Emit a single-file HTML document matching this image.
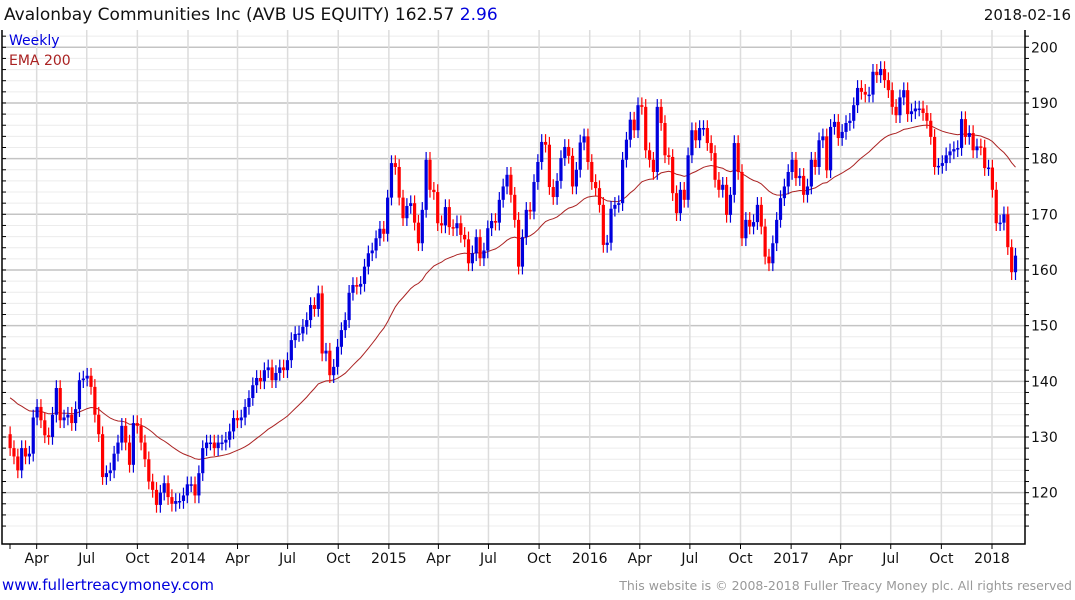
<!DOCTYPE html>
<html><head><meta charset="utf-8">
<style>
body{margin:0;background:#fff;width:1075px;height:600px;overflow:hidden;font-family:"DejaVu Sans","Liberation Sans",sans-serif;}
svg{display:block}
</style></head>
<body>
<svg id="chart" width="1075" height="600" xmlns="http://www.w3.org/2000/svg">
<text x="4" y="20" font-size="17" fill="#111">Avalonbay Communities Inc (AVB US EQUITY) 162.57 <tspan fill="#0000dd">2.96</tspan></text>
<text x="1071" y="20" font-size="15" fill="#111" text-anchor="end">2018-02-16</text>
<g id="grid"></g>
<g id="ema"></g>
<g id="candles"></g>
<g id="axes"></g>
<text x="9" y="45" font-size="14" fill="#0000dd">Weekly</text>
<text x="9" y="65" font-size="14" fill="#aa2222">EMA 200</text>
<text x="2" y="590" font-size="15" fill="#0000dd">www.fullertreacymoney.com</text>
<text x="1072" y="590" font-size="12.5" fill="#999" text-anchor="end">This website is © 2008-2018 Fuller Treacy Money plc. All rights reserved</text>
</svg>
<script>
const closes = [128,126.5,124,128,126.5,127,133.5,135.4,133,130.3,130,134,138.8,133,133.5,134,132.5,135,140.2,140.5,141,139,134,130.5,122.8,123.5,124,127,129,132,129,125,132.5,132,129,126,122,120.5,117.8,120,121.7,119.2,118,118.5,118.5,119.5,121.5,121.5,119.5,123.5,128,
129,129,128,129,129,129.5,131,133.4,133,133.5,135.4,137,139.3,140.6,140,142,142.5,140.2,141.5,142.5,142,143.8,147.4,148.5,148.6,149.8,151,153.7,153,155.8,145,145.5,141.1,142.6,146.2,149.2,151,155.9,157.3,157,157.5,160.6,163,163.5,165.7,167.4,166.5,173,179.2,178.5,173,169.3,171.5,172,168.5,
164.8,170.8,179.8,174.4,174,168.4,168,171.3,167.7,167.5,168.4,166.3,165.5,161.2,163,165.9,162.1,163.5,167.5,168.8,168.5,172.6,175,177.1,173.5,169,160.6,165.9,170.8,170.5,175.8,179.4,183,182.5,174.9,173.1,176,180.1,182.1,180.5,175,178,182.9,184,179.4,175.8,174.7,171.7,164.5,164.9,171,171.7,172,179.8,183.4,
187,185.1,189.6,189.3,181.5,179.8,177.6,189.3,186.4,180.6,180.3,173.8,170.2,174.4,172.6,180.6,185.1,183.3,185.5,185.5,182.8,181,176.2,174.4,175.3,169.9,173.5,182.8,177.6,165.7,169,167.8,168.6,171.7,167.8,162.4,161.2,164.8,169,172.9,175,177.6,179.8,176.5,176.9,173.5,175,179.8,178.5,183.3,184,177.9,185.7,186.6,183.7,
184.8,186.4,186.8,189.6,192.7,192,191.5,191.5,195.6,195,196.1,194.1,192.3,189.3,187.8,191,192.3,188,188.5,189,189,188.2,186.8,183.9,178.5,178.7,179.2,180.6,181.3,181.7,181.9,187.1,183.9,184.6,181.5,182.2,182,178.3,178.4,174.4,168.4,168.5,170,164.1,159.6,162.57];
const firstOpen = 130.5;
const emaStart = 137.5;
const yTicks = [120,130,140,150,160,170,180,190,200];
const xTickLabels = ["Apr","Jul","Oct","2014","Apr","Jul","Oct","2015","Apr","Jul","Oct","2016","Apr","Jul","Oct","2017","Apr","Jul","Oct","2018"];
const xTickDates = ["2013-04-01","2013-07-01","2013-10-01","2014-01-01","2014-04-01","2014-07-01","2014-10-01","2015-01-01","2015-04-01","2015-07-01","2015-10-01","2016-01-01","2016-04-01","2016-07-01","2016-10-01","2017-01-01","2017-04-01","2017-07-01","2017-10-01","2018-01-01"];

const NS="http://www.w3.org/2000/svg";
const L=2,R=1025,T=30,B=544;
const y=v=>47.3+(200-v)*5.567;
const n=closes.length;
const xi=i=>1015.5-(n-1-i)*3.852;
const day0=Date.UTC(2014,0,1);
const xd=s=>{const p=s.split('-');return 188+(Date.UTC(+p[0],+p[1]-1,+p[2])-day0)/864e5*0.5503;};
function mk(tag,attrs,parent){const e=document.createElementNS(NS,tag);for(const k in attrs)e.setAttribute(k,attrs[k]);parent.appendChild(e);return e;}
const grid=document.getElementById('grid'),axes=document.getElementById('axes'),cg=document.getElementById('candles'),eg=document.getElementById('ema');

// horizontal gridlines
for(let v=114;v<=202;v+=2){const yy=y(v);if(yy<T||yy>B)continue;
 const ln=mk('line',{x1:L,x2:R,y1:yy,y2:yy,stroke:v%10===0?'#c4c4c4':'#ececec','stroke-width':v%10===0?1.5:1},grid);
 
 
 const t1=mk('line',{x1:R,x2:R+4,y1:yy,y2:yy,stroke:'#000'},axes);
 
 
 const t2=mk('line',{x1:L,x2:L+4,y1:yy,y2:yy,stroke:'#000'},axes);
 
 
}
yTicks.forEach(v=>{const t=mk('text',{x:1031,y:y(v)+5,'font-size':14,fill:'#111'},axes);t.textContent=v;
 
 });
// vertical gridlines
xTickDates.forEach((d,i)=>{const xx=xd(d);
 const ln=mk('line',{x1:xx,x2:xx,y1:T,y2:B,stroke:'#dcdcdc','stroke-width':1.5},grid);
 
 
 const tk=mk('line',{x1:xx,x2:xx,y1:B,y2:B+5,stroke:'#000'},axes);
 
 
 const t=mk('text',{x:xx,y:563,'font-size':14,fill:'#111','text-anchor':'middle'},axes);t.textContent=xTickLabels[i];
 
 });
{const tk=mk('line',{x1:10,x2:10,y1:B,y2:B+5,stroke:'#000'},axes);
 
 }
// frame
const fr=mk('path',{d:`M${L},${T} L${L},${B} L${R},${B} L${R},${T}`,fill:'none',stroke:'#000','stroke-width':1.5},axes);



// EMA (200-day ≈ 40-week)
let e=emaStart,pts=[];const a=2/41;
closes.forEach((c,i)=>{e=e+a*(c-e);pts.push(xi(i).toFixed(1)+','+y(e).toFixed(1));});
const pl=mk('polyline',{points:pts.join(' '),fill:'none',stroke:'#aa2222','stroke-width':1},eg);



// candles
closes.forEach((c,i)=>{const o=i===0?firstOpen:closes[i-1];const up=c>=o;const col=up?'#0000dd':'#ff0000';
 const hi=Math.max(o,c)+1.4,lo=Math.min(o,c)-1.4;const xx=xi(i);
 const g=mk('g',{},cg);
 
 
 mk('line',{x1:xx,x2:xx,y1:y(hi),y2:y(lo),stroke:col,'stroke-width':1.2},g);
 const top=y(Math.max(o,c)),h=Math.max(1.5,y(Math.min(o,c))-top);
 mk('rect',{x:xx-1.6,y:top,width:3.2,height:h,fill:col},g);
});
</script>
</body></html>
